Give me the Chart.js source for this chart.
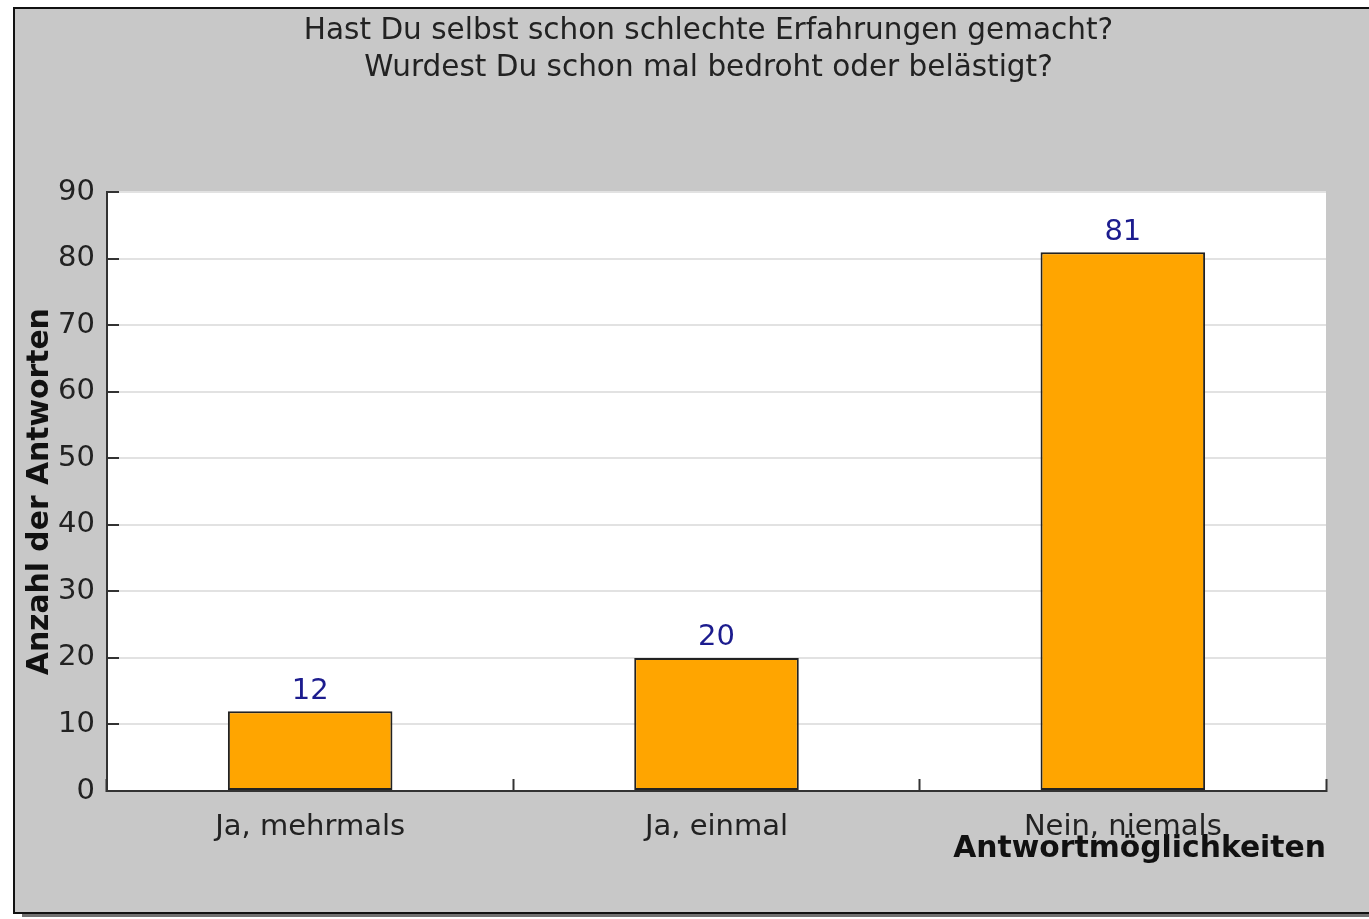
<!DOCTYPE html>
<html>
<head>
<meta charset="utf-8">
<script src="https://cdn.jsdelivr.net/npm/chart.js@4.4.1/dist/chart.umd.min.js"></script>
<style>
    html, body { margin: 0; padding: 0; background: #ffffff; overflow: hidden; }
    #frame {
        position: absolute;
        left: 13px;
        top: 7px;
        width: 1387px;
        height: 903px;
        background: #c8c8c8;
        border: 2px solid #111;
        box-shadow: 9px 3px 0 #707070;
    }
    #chart { display: block; }
</style>
</head>
<body>
<div id="frame">
    <canvas id="chart" width="1387" height="903"></canvas>
</div>
<script>
const categories = ["Ja, mehrmals", "Ja, einmal", "Nein, niemals"];
const answers = [12, 20, 81];
const titleLines = ["Hast Du selbst schon schlechte Erfahrungen gemacht?", "Wurdest Du schon mal bedroht oder belästigt?"];
const yTitle = "Anzahl der Antworten";
const xTitle = "Antwortmöglichkeiten";

const FONT = "'DejaVu Sans', sans-serif";

// white plot area + title centred on the whole canvas
const plotBackground = {
    id: "plotBackground",
    afterLayout(chart) {
        if (chart.titleBlock) {
            chart.titleBlock.left = 0;
            chart.titleBlock.right = chart.width;
        }
    },
    beforeDraw(chart) {
        const { ctx, chartArea } = chart;
        ctx.save();
        ctx.fillStyle = "#ffffff";
        ctx.fillRect(chartArea.left, chartArea.top, chartArea.right - chartArea.left, chartArea.bottom - chartArea.top);
        ctx.restore();
    }
};

// value labels above bars
const valueLabels = {
    id: "valueLabels",
    afterDatasetsDraw(chart) {
        const ctx = chart.ctx;
        const meta = chart.getDatasetMeta(0);
        ctx.save();
        ctx.font = "29px " + FONT;
        ctx.fillStyle = "#1c1c8e";
        ctx.textAlign = "center";
        ctx.textBaseline = "middle";
        meta.data.forEach((bar, i) => {
            ctx.fillText(String(chart.data.datasets[0].data[i]), bar.x, bar.y - 20);
        });
        ctx.restore();
    }
};

function initChart() {
    const ctx = document.getElementById("chart").getContext("2d");

    new Chart(ctx, {
        type: "bar",
        data: {
            labels: categories,
            datasets: [{
                label: yTitle,
                data: answers,
                backgroundColor: "#ffa500",
                borderColor: "#222222",
                borderWidth: 2,
                borderSkipped: false,
                categoryPercentage: 1.0,
                barPercentage: 0.405
            }]
        },
        options: {
            responsive: false,
            animation: false,
            layout: {
                padding: { left: 0, right: 76, top: 0, bottom: 0 }
            },
            plugins: {
                legend: { display: false },
                tooltip: { enabled: false },
                title: {
                    display: true,
                    text: titleLines,
                    color: "#222222",
                    font: { family: FONT, size: 29.5, weight: "normal", lineHeight: 1.26 },
                    padding: { top: 3.5, bottom: 105.5 }
                }
            },
            scales: {
                x: {
                    offset: true,
                    grid: {
                        offset: true,
                        drawOnChartArea: false,
                        tickLength: -12,
                        tickColor: "#333333",
                        tickWidth: 2
                    },
                    border: { color: "#333333", width: 2 },
                    ticks: {
                        color: "#222222",
                        font: { family: FONT, size: 29 },
                        padding: 31
                    },
                    title: {
                        display: true,
                        text: xTitle,
                        align: "end",
                        color: "#111111",
                        font: { family: FONT, size: 29.8, weight: "bold", lineHeight: 1.2 },
                        padding: { top: 0, bottom: 44.5 }
                    },
                    afterFit(scale) { scale.height = 121; }
                },
                y: {
                    min: 0,
                    max: 90,
                    ticks: {
                        stepSize: 10,
                        color: "#222222",
                        font: { family: FONT, size: 29 },
                        padding: 24
                    },
                    grid: {
                        color: "#e2e2e2",
                        lineWidth: 2,
                        tickLength: -12,
                        tickColor: "#333333",
                        tickWidth: 2
                    },
                    border: { color: "#333333", width: 2 },
                    title: {
                        display: true,
                        text: yTitle,
                        color: "#111111",
                        font: { family: FONT, size: 29.8, weight: "bold", lineHeight: 1.2 },
                        padding: { top: 7.3, bottom: 0 }
                    },
                    afterFit(scale) { scale.width = 92; }
                }
            }
        },
        plugins: [plotBackground, valueLabels]
    });
}

document.addEventListener("DOMContentLoaded", initChart);
</script>
</body>
</html>
